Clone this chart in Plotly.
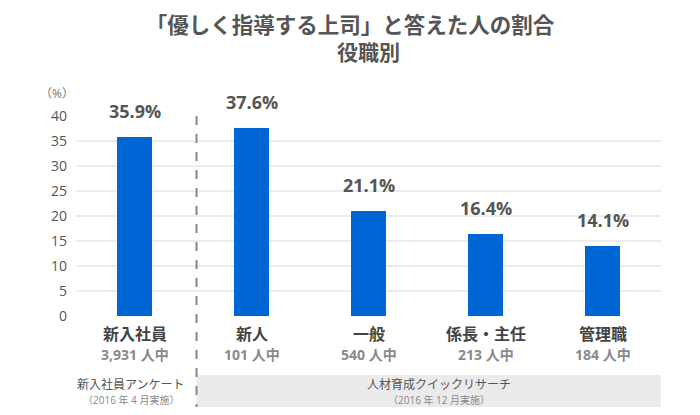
import plotly.graph_objects as go

categories = ["新入社員", "新人", "一般", "係長・主任", "管理職"]
respondents = ["3,931 人中", "101 人中", "540 人中", "213 人中", "184 人中"]
values = [35.9, 37.6, 21.1, 16.4, 14.1]
value_labels = ["35.9%", "37.6%", "21.1%", "16.4%", "14.1%"]
y_ticks = [0, 5, 10, 15, 20, 25, 30, 35, 40]

FONT = "Open Sans, Noto Sans CJK JP"
CJK = "Noto Sans CJK JP"
x_pos = list(range(len(categories)))

fig = go.Figure()
fig.add_trace(go.Bar(
    x=x_pos, y=values, width=0.3,
    marker=dict(color="#0066d6", line=dict(width=0)),
    hoverinfo="skip",
))

ann = []
for xi, v, lab in zip(x_pos, values, value_labels):
    ann.append(dict(x=xi, y=v, xref="x", yref="y", text=f"<b>{lab}</b>",
                    showarrow=False, yanchor="bottom", yshift=12,
                    font=dict(family=FONT, size=18, color="#555555")))
for xi, c, r in zip(x_pos, categories, respondents):
    ann.append(dict(x=xi, y=-0.09, xref="x", yref="paper", text=f"<b>{c}</b>",
                    showarrow=False, yanchor="middle",
                    font=dict(family=FONT, size=16, color="#444444")))
    ann.append(dict(x=xi, y=-0.19, xref="x", yref="paper", text=f"<b>{r}</b>",
                    showarrow=False, yanchor="middle",
                    font=dict(family=FONT, size=14, color="#8a8a8a")))

# survey labels
ann += [
    dict(x=0, y=-0.343, xref="x", yref="paper", text="新入社員アンケート",
         showarrow=False, yanchor="middle", xshift=-4,
         font=dict(family=FONT, size=12, color="#555555")),
    dict(x=0, y=-0.42, xref="x", yref="paper", text="（2016 年 4 月実施）",
         showarrow=False, yanchor="middle", xshift=-4,
         font=dict(family=FONT, size=10, color="#888888")),
    dict(x=2.6, y=-0.343, xref="x", yref="paper", text="人材育成クイックリサーチ",
         showarrow=False, yanchor="middle",
         font=dict(family=FONT, size=12, color="#555555")),
    dict(x=2.6, y=-0.42, xref="x", yref="paper", text="（2016 年 12 月実施）",
         showarrow=False, yanchor="middle",
         font=dict(family=FONT, size=10, color="#888888")),
    dict(x=-0.032, y=1.11, xref="paper", yref="paper", text="（%）",
         showarrow=False, yanchor="middle", xanchor="center",
         font=dict(family=FONT, size=12, color="#777777")),
    dict(x=0.5, y=1.325, xref="paper", yref="paper",
         text="<b>役職別</b>", showarrow=False, yanchor="middle",
         font=dict(family=CJK, size=21, color="#555555")),
]

shapes = [
    dict(type="rect", xref="x", yref="paper", x0=0.53, x1=4.52, y0=-0.295, y1=-0.455,
         fillcolor="#ebebeb", line=dict(width=0), layer="below"),
    dict(type="line", xref="x", yref="paper", x0=0.53, x1=0.53, y0=1.0, y1=-0.455,
         line=dict(color="#888888", width=2, dash="dash")),
]

fig.update_layout(
    width=700, height=415,
    margin=dict(l=76, r=39, t=116, b=99),
    paper_bgcolor="white", plot_bgcolor="white",
    title=dict(
        text="<b>「優しく指導する上司」と答えた人の割合</b>",
        x=0.5, xanchor="center", y=1.0 - 25 / 415, yanchor="middle",
        font=dict(family=CJK, size=21.5, color="#555555"),
    ),
    xaxis=dict(range=[-0.5, 4.5], showticklabels=False, showgrid=False,
               zeroline=False, showline=False, fixedrange=True, automargin=False),
    yaxis=dict(range=[0, 40], tickvals=y_ticks, showgrid=True,
               gridcolor="#ececec", gridwidth=2, zeroline=False, showline=False,
               ticks="", tickfont=dict(family=FONT, size=14, color="#555555"),
               ticklabelstandoff=8, automargin=False, fixedrange=True,
               tickprefix="<b>", ticksuffix="</b>"),
    annotations=ann,
    shapes=shapes,
    showlegend=False,
    bargap=0,
)

fig.write_html("out.html", config={"displayModeBar": False},
               post_script="document.body.style.margin='0';")
